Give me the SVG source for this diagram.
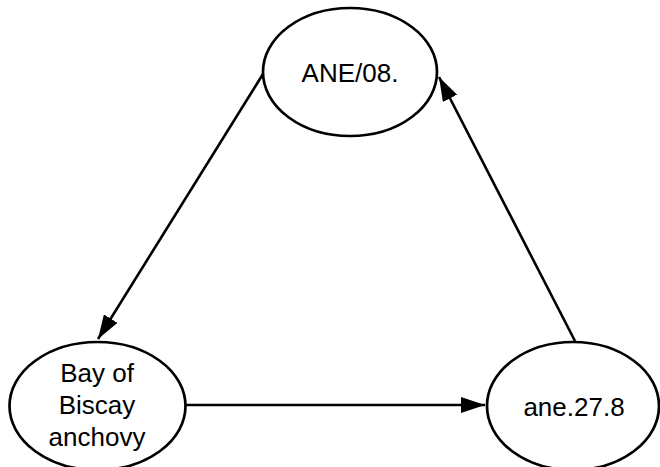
<svg xmlns="http://www.w3.org/2000/svg" width="660" height="467" viewBox="0 0 660 467">
<style>
.n ellipse{fill:#fff;stroke:#000;stroke-width:2.7}
.n text{font-family:"Liberation Sans",Arial,sans-serif;font-size:26px;fill:#000;text-anchor:middle}
.e line{stroke:#000;stroke-width:2.6}
</style>
<defs>
<marker id="a" viewBox="0 0 24 16" refX="24" refY="8" markerWidth="24" markerHeight="16" markerUnits="userSpaceOnUse" orient="auto">
<path d="M0,0 L24,8 L0,16 Z" fill="#000"/>
</marker>
</defs>
<rect width="660" height="467" fill="#fff"/>
<g id="edges" class="e">
<line x1="263" y1="74" x2="98" y2="339" marker-end="url(#a)"/>
<line x1="186" y1="405" x2="485" y2="405" marker-end="url(#a)"/>
<line x1="575" y1="341" x2="439" y2="77" marker-end="url(#a)"/>
</g>
<g id="ane08" class="n">
<ellipse cx="350" cy="72" rx="87" ry="64"/>
<text x="350" y="82">ANE/08.</text>
</g>
<g id="bay" class="n">
<ellipse cx="97.5" cy="406" rx="88" ry="64"/>
<text x="97" y="382">Bay of</text>
<text x="97" y="414">Biscay</text>
<text x="97" y="446">anchovy</text>
</g>
<g id="ane278" class="n">
<ellipse cx="573" cy="406" rx="86" ry="64"/>
<text x="574" y="416">ane.27.8</text>
</g>
</svg>
